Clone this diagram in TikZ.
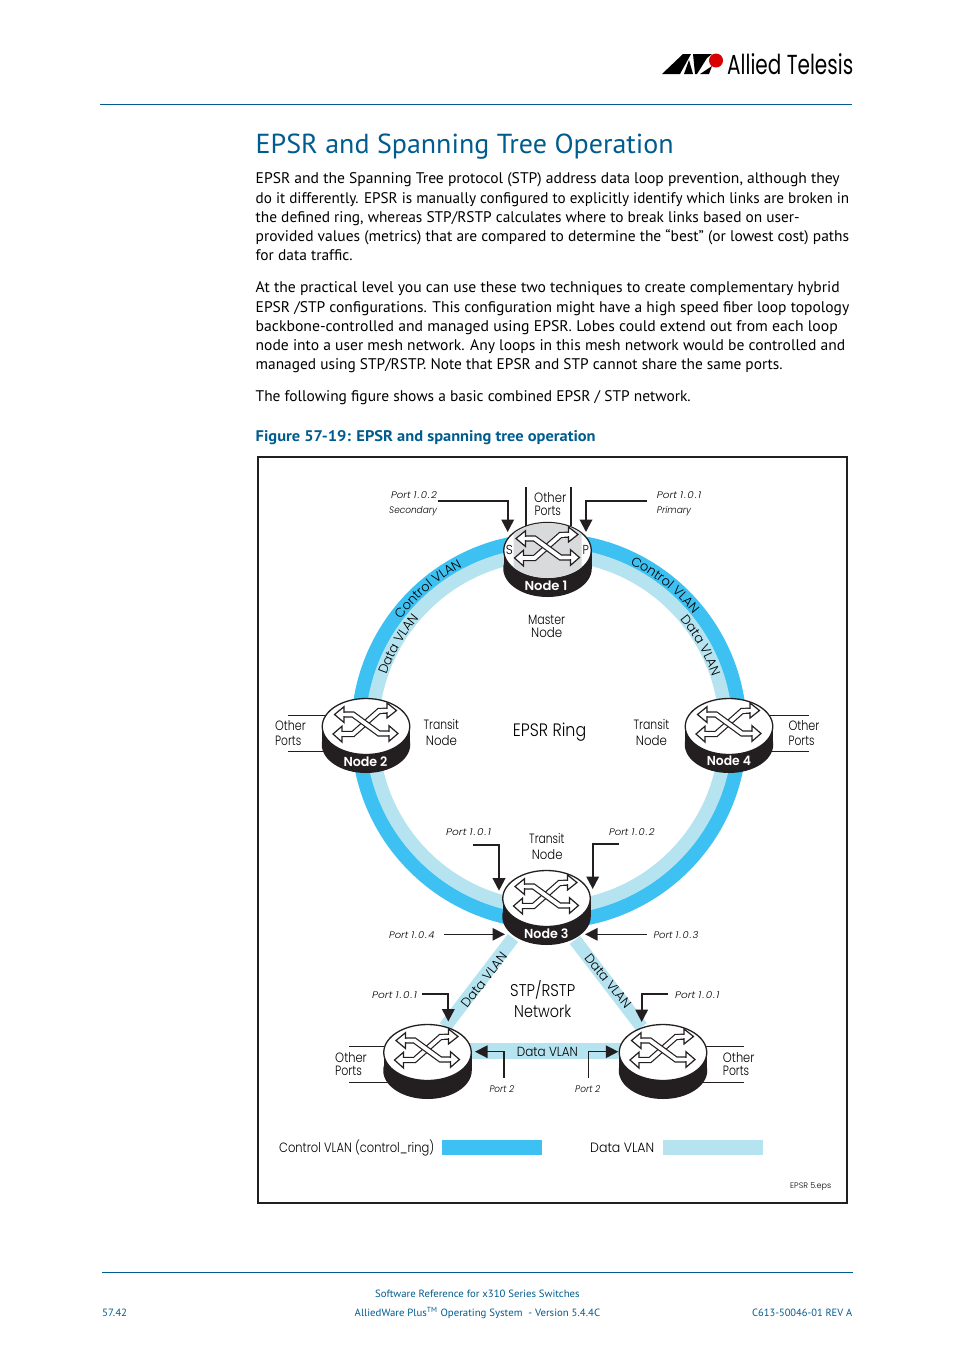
\documentclass[tikz,border=0pt]{standalone}
\usepackage{fontspec}
\usepackage{graphicx}
\usetikzlibrary{shapes.geometric,arrows.meta,decorations.text}
\setmainfont{PT Sans}
\newfontfamily\dfont[ItalicFont={Poppins Light Italic},BoldFont={Poppins SemiBold}]{Poppins Light}
\newfontfamily\dnumfont[LetterSpace=11]{Poppins Light Italic}
\newfontfamily\lfont{Poppins}
\definecolor{ctrlblue}{HTML}{3CC1F2}
\definecolor{datablue}{HTML}{B6E3F0}
\definecolor{headblue}{HTML}{005C8F}
\definecolor{nodeblack}{HTML}{231F20}
\definecolor{nodegray}{HTML}{D9DADC}
\newcounter{tlc}
% x, baseline y, width, font, text
\newcommand{\tl}[5]{\stepcounter{tlc}\node[anchor=base west,inner sep=0pt] (t\thetlc) at (#1,#2) {\resizebox{#3pt}{\height}{#4#5}};}
\newcommand{\bodyf}{\fontsize{15.4}{18}\selectfont}
\newcommand{\df}[1]{\dfont\fontsize{#1}{#1}\selectfont}
\newcommand{\pf}{\dfont\itshape\fontsize{9.5}{10}\selectfont}
\newcommand{\pn}[1]{{\dnumfont\upshape\fontsize{9.5}{10}\selectfont #1}}
\newcommand{\glyph}{%
 \draw[line width=6.2pt,nodeblack,miter limit=4] (-26,7.5) -- (-13,7.5) -- (13,-15.5) -- (24,-16);
 \draw[line width=3.8pt,white,miter limit=4] (-26,7.5) -- (-13,7.5) -- (13,-15.5) -- (24,-16);
 \draw[line width=6.2pt,nodeblack,miter limit=4] (-26,-12) -- (-13,-12) -- (13,7) -- (25,7);
 \draw[line width=3.8pt,white,miter limit=4] (-26,-12) -- (-13,-12) -- (13,7) -- (25,7);
 \draw[line width=1.2pt,nodeblack,fill=white] (-31.5,-12) -- (-22,-19.8) -- (-22,-4) -- cycle;
 \draw[line width=1.2pt,nodeblack,fill=white] (-33,7.5) -- (-24,-0.3) -- (-24,15.5) -- cycle;
 \draw[line width=1.2pt,nodeblack,fill=white] (30.5,-16) -- (21,-23.5) -- (21,-8.5) -- cycle;
 \draw[line width=1.2pt,nodeblack,fill=white] (32,7) -- (23,-0.8) -- (23,14.8) -- cycle;
 \draw[line width=3.8pt,white] (-26.5,7.5) -- (-22.5,7.5);
 \draw[line width=3.8pt,white] (-25,-12) -- (-20.5,-12);
 \draw[line width=3.8pt,white] (19.5,-16) -- (24,-16);
 \draw[line width=3.8pt,white] (21.5,7) -- (26,7);
}
% name, x, y of top ellipse centre, extra
\newcommand{\swnode}[4]{%
 \begin{scope}[shift={(#2,#3)}]
  \fill[nodeblack] (-44,0) rectangle (44,18);
  \node[ellipse,fill=nodeblack,minimum width=88.5pt,minimum height=57pt,inner sep=0pt] (#1-b) at (0,18) {};
  \node[ellipse,draw=nodeblack,fill=white,line width=1.3pt,minimum width=87.5pt,minimum height=56pt,inner sep=0pt] (#1) at (0,0) {};
  #4
  \glyph
 \end{scope}}
\tikzset{
 bigarrow/.style={nodeblack,line width=2pt,-{Triangle[length=12.5pt,width=12.5pt]}},
 smallarrow/.style={nodeblack,line width=1.2pt,-{Triangle[length=12.5pt,width=12.5pt]}},
 portline/.style={nodeblack,line width=1.1pt},
}
\begin{document}
\begin{tikzpicture}[x=1pt,y=-1pt]
\useasboundingbox[fill=white] (0,0) rectangle (954,1350);
% header
\coordinate (hrA) at (100,104.5); \coordinate (hrB) at (852,104.5);
\draw[headblue,line width=1pt] (hrA) -- (hrB);
\coordinate (frA) at (102,1272.5); \coordinate (frB) at (853,1272.5);
\draw[headblue,line width=1pt] (frA) -- (frB);
% logo
\fill[black] (662,74) -- (683,54) -- (691,54) -- (680,74) -- cycle;
\fill[black] (689,60) -- (693,74) -- (684,74) -- cycle;
\fill[black] (693,54) -- (712,54) -- (707,58) -- (697,74) -- (695,74) -- cycle;
\fill[black] (700,74) -- (712,66) -- (709,74) -- cycle;
\fill[red!85!black] (716,60.5) circle (7);
\tl{727}{74.5}{126}{\lfont\fontsize{27.5}{28}\selectfont}{Allied Telesis}
% title and text
\tl{255.5}{153.5}{418}{\color{headblue}\fontsize{27.5}{30}\selectfont}{EPSR and Spanning Tree Operation}
\tl{255.5}{183}{584}{\bodyf}{EPSR and the Spanning Tree protocol (STP) address data loop prevention, although they}
\tl{255.5}{203}{593.5}{\bodyf}{do it differently. EPSR is manually configured to explicitly identify which links are broken in}
\tl{255.5}{222}{544}{\bodyf}{the defined ring, whereas STP/RSTP calculates where to break links based on user-}
\tl{255.5}{241}{593.5}{\bodyf}{provided values (metrics) that are compared to determine the “best” (or lowest cost) paths}
\tl{255.5}{260}{97}{\bodyf}{for data traffic.}
\tl{255.5}{292}{584}{\bodyf}{At the practical level you can use these two techniques to create complementary hybrid}
\tl{255.5}{312}{593.5}{\bodyf}{EPSR /STP configurations. This configuration might have a high speed fiber loop topology}
\tl{255.5}{331}{582}{\bodyf}{backbone-controlled and managed using EPSR. Lobes could extend out from each loop}
\tl{255.5}{350}{589.5}{\bodyf}{node into a user mesh network. Any loops in this mesh network would be controlled and}
\tl{255.5}{369}{527}{\bodyf}{managed using STP/RSTP. Note that EPSR and STP cannot share the same ports.}
\tl{255.5}{401}{435}{\bodyf}{The following figure shows a basic combined EPSR / STP network.}
\tl{255.5}{441}{340}{\color{headblue}\bfseries\fontsize{15.4}{18}\selectfont}{Figure 57-19: EPSR and spanning tree operation}
% frame
\node[draw=nodeblack,line width=2pt,minimum width=589pt,minimum height=746pt,inner sep=0pt] (frame) at (552.5,830) {};
% rings
\coordinate (ringc) at (549,731);
\draw[ctrlblue,line width=14.5pt] (ringc) circle (190.7);
\draw[datablue,line width=13.5pt] (ringc) circle (177);
% bands
\coordinate (bandL) at (513,938); \coordinate (bandLb) at (445,1027);
\coordinate (bandR) at (575,940); \coordinate (bandRb) at (641.7,1027);
\draw[datablue,line width=13pt] (bandL) -- (bandLb);
\draw[datablue,line width=13pt] (bandR) -- (bandRb);
\coordinate (bandHa) at (465,1051.2); \coordinate (bandHb) at (625,1051.2);
\draw[datablue,line width=16pt] (bandHa) -- (bandHb);
% ring text
\path[decorate,decoration={text along path,text={|\df{12.9}|Control VLAN},text align={center}}] plot[domain=145.5:115.5,samples=40] ({549+185.5*cos(\x)},{731-185.5*sin(\x)});
\path[decorate,decoration={text along path,text={|\df{12.9}|Data VLAN},text align={center}}] plot[domain=163:137,samples=40] ({549+172*cos(\x)},{731-172*sin(\x)});
\path[decorate,decoration={text along path,text={|\df{12.9}|Control VLAN},text align={center}}] plot[domain=66.5:36.5,samples=40] ({549+185.5*cos(\x)},{731-185.5*sin(\x)});
\path[decorate,decoration={text along path,text={|\df{12.9}|Data VLAN},text align={center}}] plot[domain=42.5:16.5,samples=40] ({549+172*cos(\x)},{731-172*sin(\x)});
\node[rotate=52,inner sep=0pt] (dvl) at (484,980) {\df{12.9}Data VLAN};
\node[rotate=-51,inner sep=0pt] (dvr) at (608,981) {\df{12.9}Data VLAN};
% other-port lines
\coordinate (o1a) at (526,487); \coordinate (o1b) at (526,526);
\coordinate (o1c) at (571,487); \coordinate (o1d) at (571,526);
\draw[portline] (o1a) -- (o1b); \draw[portline] (o1c) -- (o1d);
\coordinate (o2a) at (288,715.5); \coordinate (o2b) at (327,715.5);
\coordinate (o2c) at (288,751.5); \coordinate (o2d) at (330,751.5);
\draw[portline] (o2a) -- (o2b); \draw[portline] (o2c) -- (o2d);
\coordinate (o4a) at (809,715.5); \coordinate (o4b) at (768,715.5);
\coordinate (o4c) at (809,751.5); \coordinate (o4d) at (765,751.5);
\draw[portline] (o4a) -- (o4b); \draw[portline] (o4c) -- (o4d);
\coordinate (o5a) at (349,1046.7); \coordinate (o5b) at (388,1046.7);
\coordinate (o5c) at (349,1082.5); \coordinate (o5d) at (392,1082.5);
\draw[portline] (o5a) -- (o5b); \draw[portline] (o5c) -- (o5d);
\coordinate (o6a) at (744,1046.7); \coordinate (o6b) at (703,1046.7);
\coordinate (o6c) at (744,1082.5); \coordinate (o6d) at (700,1082.5);
\draw[portline] (o6a) -- (o6b); \draw[portline] (o6c) -- (o6d);
% nodes
\swnode{n1}{547.5}{550.5}{\begin{scope}\clip (-34,-30) rectangle (34,30); \fill[nodegray] (0,0) ellipse (43 and 27.5);\end{scope}}
\swnode{n2}{366}{726.5}{}
\swnode{n4}{729}{726.5}{}
\swnode{n3}{546.5}{898.5}{}
\swnode{n5}{427.5}{1052.5}{}
\swnode{n6}{663}{1052.5}{}
% node labels
\tl{524.3}{590}{43}{\color{white}\df{13}\bfseries}{Node 1}
\tl{343.3}{766}{44}{\color{white}\df{13}\bfseries}{Node 2}
\tl{706.7}{765}{44}{\color{white}\df{13}\bfseries}{Node 4}
\tl{524}{938.3}{44.3}{\color{white}\df{13}\bfseries}{Node 3}
\tl{505.7}{554}{7}{\df{13}}{S}
\tl{582.3}{554}{6.3}{\df{13}}{P}
% port arrows
\coordinate (a1s) at (437.5,501); \coordinate (a1e) at (507.7,532);
\draw[bigarrow] (a1s) -| (a1e);
\coordinate (a2s) at (646.7,501); \coordinate (a2e) at (586,532);
\draw[bigarrow] (a2s) -| (a2e);
\coordinate (a3s) at (473.3,845); \coordinate (a3e) at (499,890.7);
\draw[bigarrow] (a3s) -| (a3e);
\coordinate (a4s) at (618.7,843.5); \coordinate (a4e) at (592.7,889);
\draw[bigarrow] (a4s) -| (a4e);
\coordinate (a5s) at (444,934.3); \coordinate (a5e) at (505,934.3);
\draw[smallarrow] (a5s) -- (a5e);
\coordinate (a6s) at (646.7,934.3); \coordinate (a6e) at (585,934.3);
\draw[smallarrow] (a6s) -- (a6e);
\coordinate (a7s) at (422,994.3); \coordinate (a7e) at (448.3,1021.5);
\draw[bigarrow] (a7s) -| (a7e);
\coordinate (a8s) at (667.7,994.3); \coordinate (a8e) at (641.7,1022);
\draw[bigarrow] (a8s) -| (a8e);
\coordinate (a9s) at (504,1077.7); \coordinate (a9e) at (475,1051.7);
\draw[smallarrow,line width=1.5pt] (a9s) |- (a9e);
\coordinate (a10s) at (588.7,1077.7); \coordinate (a10e) at (618.3,1051.7);
\draw[smallarrow,line width=1.5pt] (a10s) |- (a10e);
% diagram texts
\tl{534}{502}{32}{\df{13.5}}{Other}
\tl{534.3}{515}{26.4}{\df{13.5}}{Ports}
\tl{391}{498}{45.7}{\pf}{Port \pn{1.0.2}}
\tl{389}{513.3}{47.7}{\pf}{Secondary}
\tl{656.7}{498}{44.3}{\pf}{Port \pn{1.0.1}}
\tl{656.7}{513.3}{34.3}{\pf}{Primary}
\tl{528}{624}{37}{\df{13.5}}{Master}
\tl{531}{637}{31}{\df{13.5}}{Node}
\tl{423.3}{729}{35.4}{\df{13.5}}{Transit}
\tl{425.7}{745}{31}{\df{13.5}}{Node}
\tl{633.3}{729}{35.7}{\df{13.5}}{Transit}
\tl{635.7}{745}{31}{\df{13.5}}{Node}
\tl{512.7}{736}{73.3}{\df{18}}{EPSR Ring}
\tl{275}{730.7}{30.7}{\df{13.5}}{Other}
\tl{275}{745}{26}{\df{13.5}}{Ports}
\tl{788.3}{730.7}{31}{\df{13.5}}{Other}
\tl{788.3}{745}{26}{\df{13.5}}{Ports}
\tl{529}{843}{35.3}{\df{13.5}}{Transit}
\tl{531.7}{859}{30.6}{\df{13.5}}{Node}
\tl{446}{835}{44.7}{\pf}{Port \pn{1.0.1}}
\tl{609}{835}{45.3}{\pf}{Port \pn{1.0.2}}
\tl{389}{938}{45.3}{\pf}{Port \pn{1.0.4}}
\tl{653.3}{938}{45}{\pf}{Port \pn{1.0.3}}
\tl{372}{998}{44.7}{\pf}{Port \pn{1.0.1}}
\tl{675}{998}{44.3}{\pf}{Port \pn{1.0.1}}
\tl{489.3}{1092}{24.7}{\pf}{Port \pn{2}}
\tl{575}{1092}{25}{\pf}{Port \pn{2}}
\tl{510}{996.7}{65}{\df{17}}{STP/RSTP}
\tl{514}{1017}{57}{\df{17}}{Network}
\tl{516.7}{1056}{61}{\df{13.2}}{Data VLAN}
\tl{335}{1062}{31.7}{\df{13.5}}{Other}
\tl{335}{1075}{26.7}{\df{13.5}}{Ports}
\tl{722.7}{1062}{31.6}{\df{13.5}}{Other}
\tl{722.7}{1075}{26.3}{\df{13.5}}{Ports}
% legend
\tl{279}{1152}{155}{\df{13.5}}{Control VLAN (control\_ring)}
\tl{590}{1152}{64}{\df{13.5}}{Data VLAN}
\node[fill=ctrlblue,minimum width=100pt,minimum height=15pt,inner sep=0pt] (lg1) at (492,1147.5) {};
\node[fill=datablue,minimum width=100pt,minimum height=15pt,inner sep=0pt] (lg2) at (713,1147.5) {};
\tl{790}{1188}{41}{\df{8}}{EPSR 5.eps}
% footer
\tl{375}{1297}{204.5}{\color{headblue}\fontsize{10.5}{12}\selectfont}{Software Reference for x310 Series Switches}
\tl{354.5}{1316}{245.5}{\color{headblue}\fontsize{10.5}{12}\selectfont}{AlliedWare Plus\textsuperscript{TM} Operating System\ \ - Version 5.4.4C}
\tl{102}{1316}{25}{\color{headblue}\fontsize{10.5}{12}\selectfont}{57.42}
\tl{752}{1316}{100}{\color{headblue}\fontsize{10.5}{12}\selectfont}{C613-50046-01 REV A}
\end{tikzpicture}
\end{document}
